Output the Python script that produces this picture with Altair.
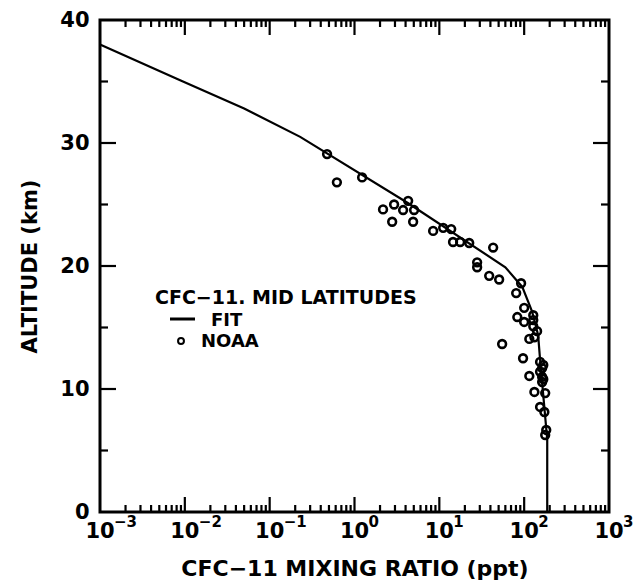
import altair as alt
import pandas as pd

# plot-area size in pixels
W, H = 509, 492
FONT = "DejaVu Sans"

# fitted CFC-11 profile (ppt vs km)
fit_ppt = [0.001, 0.0088, 0.05, 0.229, 4.3, 60, 95, 124, 146, 154, 187, 187]
fit_km = [38.0, 35.1, 32.8, 30.5, 25.1, 19.9, 18.3, 16.3, 14.4, 12.4, 5.9, 0.0]

# NOAA observations
noaa_ppt = [0.475, 0.62, 1.23, 4.29, 2.93, 2.17, 3.74, 5.04, 2.78, 4.91,
            8.45, 11.1, 13.8, 14.5, 17.6, 22.5, 43.1, 27.9, 27.9, 38.7,
            50.7, 92, 80.5, 100, 128, 83, 100, 128, 128, 142,
            132, 115, 55, 97, 154, 168, 154, 115, 163, 163,
            132, 177, 154, 173, 182, 177, 163, 168]
noaa_km = [29.1, 26.8, 27.2, 25.3, 25.0, 24.6, 24.55, 24.55, 23.6, 23.6,
           22.85, 23.1, 23.0, 21.95, 21.95, 21.87, 21.5, 20.3, 19.9, 19.2,
           18.9, 18.6, 17.8, 16.6, 16.0, 15.85, 15.45, 15.6, 15.1, 14.7,
           14.2, 14.07, 13.66, 12.5, 12.2, 11.95, 11.4, 11.06, 10.98, 10.57,
           9.76, 9.67, 8.54, 8.13, 6.67, 6.26, 11.7, 10.8]

# tick positions and labels
x_major = [0.01, 0.1, 1, 10, 100]
x_minor = [m * 10.0 ** e for e in range(-3, 3) for m in range(2, 10)]
y_major = [10, 20, 30]
y_minor = [5, 15, 25, 35]
x_label_vals = [0.001, 0.01, 0.1, 1, 10, 100, 1000]
x_label_exp = ["\u22123", "\u22122", "\u22121", "0", "1", "2", "3"]
y_label_vals = [0, 10, 20, 30, 40]

fit_df = pd.DataFrame({"ppt": fit_ppt, "km": fit_km, "i": range(len(fit_ppt))})
noaa_df = pd.DataFrame({"ppt": noaa_ppt, "km": noaa_km})
xmaj_df = pd.DataFrame({"ppt": x_major})
xmin_df = pd.DataFrame({"ppt": x_minor})
ymaj_df = pd.DataFrame({"km": y_major})
ymin_df = pd.DataFrame({"km": y_minor})
xlab_df = pd.DataFrame({"ppt": x_label_vals, "base": ["10"] * len(x_label_vals),
                        "exp": x_label_exp})
one_row = pd.DataFrame({"k": [0]})

xs = alt.Scale(type="log", domain=[0.001, 1000], nice=False)
ys = alt.Scale(domain=[0, 40], nice=False)

xaxis = alt.Axis(labels=False, ticks=False, domain=False, grid=False,
                 title="CFC\u221211 MIXING RATIO (ppt)", titleFont=FONT,
                 titleFontSize=22, titleFontWeight="bold", titleColor="black",
                 titleX=W / 2, titleY=56, titleBaseline="middle", titleAlign="center")
yaxis = alt.Axis(values=y_label_vals, ticks=False, domain=False, grid=False,
                 labelFont=FONT, labelFontSize=21, labelFontWeight="bold",
                 labelColor="black", labelPadding=11,
                 title="ALTITUDE (km)", titleFont=FONT, titleFontSize=21,
                 titleFontWeight="bold", titleColor="black",
                 titleX=-70, titleY=H / 2, titleAngle=270,
                 titleAlign="center", titleBaseline="middle")

X = alt.X("ppt:Q", scale=xs, axis=xaxis)
Y = alt.Y("km:Q", scale=ys, axis=yaxis)

fit = alt.Chart(fit_df).mark_line(color="black", strokeWidth=2.2).encode(
    x=X, y=Y, order="i:Q")

points = alt.Chart(noaa_df).mark_point(
    shape="circle", filled=False, color="black", strokeWidth=2.6, size=60, opacity=1
).encode(x=X, y=Y)

tick_style = dict(color="black", strokeWidth=2.2)
ticks = [
    alt.Chart(xmaj_df).mark_rule(**tick_style).encode(x=X, y=alt.value(H), y2=alt.value(H - 15)),
    alt.Chart(xmin_df).mark_rule(**tick_style).encode(x=X, y=alt.value(H), y2=alt.value(H - 7)),
    alt.Chart(xmaj_df).mark_rule(**tick_style).encode(x=X, y=alt.value(0), y2=alt.value(15)),
    alt.Chart(xmin_df).mark_rule(**tick_style).encode(x=X, y=alt.value(0), y2=alt.value(7)),
    alt.Chart(ymaj_df).mark_rule(**tick_style).encode(y=Y, x=alt.value(0), x2=alt.value(16)),
    alt.Chart(ymin_df).mark_rule(**tick_style).encode(y=Y, x=alt.value(0), x2=alt.value(8)),
    alt.Chart(ymaj_df).mark_rule(**tick_style).encode(y=Y, x=alt.value(W), x2=alt.value(W - 16)),
    alt.Chart(ymin_df).mark_rule(**tick_style).encode(y=Y, x=alt.value(W), x2=alt.value(W - 8)),
]

# decade labels drawn as "10" plus a raised exponent
xlab_base = alt.Chart(xlab_df).mark_text(
    font=FONT, fontSize=21, fontWeight="bold", color="black",
    align="center", baseline="alphabetic"
).encode(x=X, y=alt.value(H + 26), text="base:N")
xlab_exp = alt.Chart(xlab_df).mark_text(
    font=FONT, fontSize=15, fontWeight="bold", color="black",
    align="left", baseline="alphabetic", dx=14
).encode(x=X, y=alt.value(H + 15), text="exp:N")

# in-plot key
txt = dict(font=FONT, fontWeight="bold", color="black", align="left", baseline="alphabetic")
key = [
    alt.Chart(one_row).mark_text(text="CFC\u221211. MID LATITUDES", fontSize=19, **txt)
    .encode(x=alt.value(55), y=alt.value(284)),
    alt.Chart(one_row).mark_rule(color="black", strokeWidth=3)
    .encode(x=alt.value(70), x2=alt.value(95), y=alt.value(299)),
    alt.Chart(one_row).mark_text(text="FIT", fontSize=18, **txt)
    .encode(x=alt.value(111), y=alt.value(306)),
    alt.Chart(one_row).mark_point(shape="circle", filled=False, color="black",
                                  strokeWidth=2, size=35, opacity=1)
    .encode(x=alt.value(81), y=alt.value(321)),
    alt.Chart(one_row).mark_text(text="NOAA", fontSize=18, **txt)
    .encode(x=alt.value(101), y=alt.value(327)),
]

chart = alt.layer(fit, points, *ticks, xlab_base, xlab_exp, *key).properties(
    width=W, height=H,
    autosize=alt.AutoSizeParams(type="none"),
    padding={"left": 100, "top": 20, "right": 638 - 100 - W, "bottom": 584 - 20 - H},
    background="white",
).configure_view(stroke="black", strokeWidth=3)

chart.save("out.html", embed_options={"renderer": "svg", "actions": False})
